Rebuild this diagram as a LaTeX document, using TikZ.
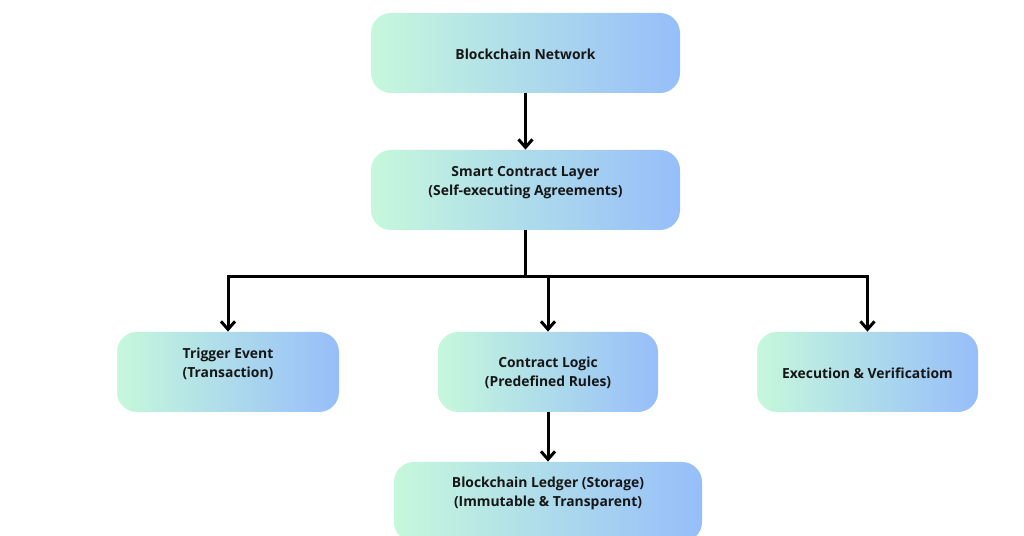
\documentclass[tikz,border=0pt]{standalone}
\usepackage{fontspec}
\setmainfont{Open Sans}
\usetikzlibrary{arrows.meta}

\definecolor{mintleft}{RGB}{198,248,220}
\definecolor{skyright}{RGB}{150,190,250}
\definecolor{inkdark}{RGB}{22,22,22}

\begin{document}
\begin{tikzpicture}[
  card/.style={rectangle, rounded corners=0.4cm, draw=none,
       shading=axis, left color=mintleft, right color=skyright,
       shading angle=90, minimum height=1.6cm, inner sep=0cm},
  cardtext/.style={align=center, text=inkdark, inner sep=0cm,
       font=\fontsize{7.9}{10.8}\selectfont\bfseries},
  wire/.style={line width=0.06cm, color=black},
  flow/.style={wire, -{Straight Barb[length=1.6mm,width=2.8mm]}}
]
\useasboundingbox (0,0) rectangle (20.48,10.72);

% boxes
\node[card, minimum width=6.18cm] (net) at (10.51, 9.66) {};
\node[card, minimum width=6.18cm] (layer) at (10.51, 6.92) {};
\node[card, minimum width=4.44cm] (trig) at (4.56, 3.28) {};
\node[card, minimum width=4.40cm] (logic) at (10.96, 3.28) {};
\node[card, minimum width=4.42cm] (exec) at (17.35, 3.28) {};
\node[card, minimum width=6.16cm] (ledger) at (10.96, 0.68) {};

% texts
\node[cardtext] (nettxt) at ([yshift=-0.02cm]net.center) {Blockchain Network};
\node[cardtext] (layertxt) at ([yshift=0.15cm]layer.center)
  {Smart Contract Layer\\(Self-executing Agreements)};
\node[cardtext] (trigtxt) at ([yshift=0.16cm]trig.center)
  {Trigger Event\\(Transaction)};
\node[cardtext] (logictxt) at ([yshift=-0.02cm]logic.center)
  {Contract Logic\\(Predefined Rules)};
\node[cardtext] (exectxt) at ([yshift=-0.02cm]exec.center) {Execution \& Verificatiom};
\node[cardtext] (ledgertxt) at ([yshift=0.18cm]ledger.center)
  {Blockchain Ledger (Storage)\\(Immutable \& Transparent)};

% connectors
\coordinate (bus) at (10.51, 5.18);
\draw[flow] (net) -- (layer);
\draw[wire] (layer.south) -- (bus);
\draw[wire, line cap=rect] (trig.north |- bus) -- (exec.north |- bus);
\draw[flow] (trig.north |- bus) -- (trig.north);
\draw[flow] (logic.north |- bus) -- (logic.north);
\draw[flow] (exec.north |- bus) -- (exec.north);
\draw[flow] (logic.south) -- (ledger.north);
\end{tikzpicture}
\end{document}
